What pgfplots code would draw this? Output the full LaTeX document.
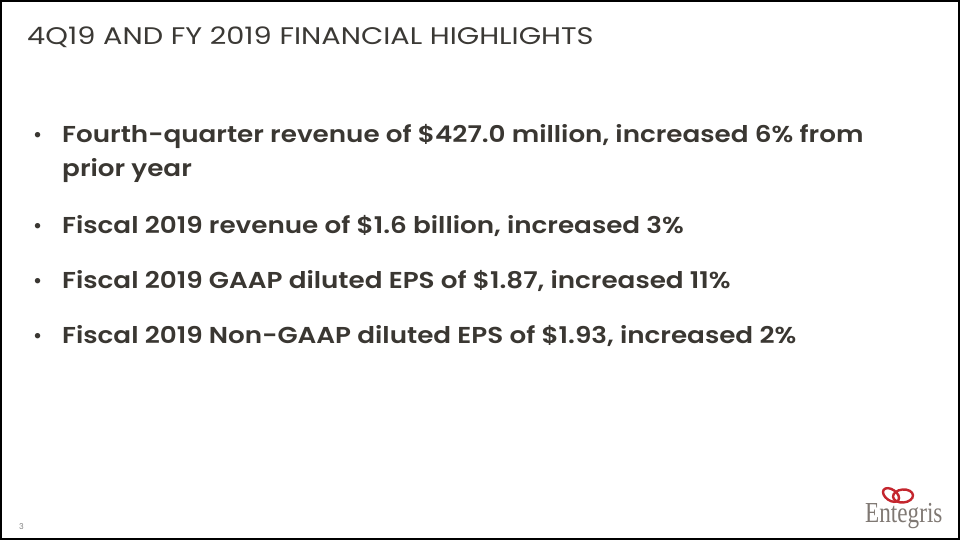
\documentclass[border=0pt]{standalone}
\usepackage{fontspec}
\setmainfont{Poppins}[BoldFont={* SemiBold}]
\usepackage{pgfplots}
\pgfplotsset{compat=1.18}
\newfontfamily\logofont{Liberation Serif}
\definecolor{titlegray}{HTML}{3B3935}
\definecolor{textgray}{HTML}{3A3732}
\definecolor{logored}{HTML}{C4262E}
\definecolor{logogray}{HTML}{7F7873}
\begin{document}
\begin{tikzpicture}
\begin{axis}[
  width=960pt, height=540pt, scale only axis,
  xmin=0, xmax=960, ymin=0, ymax=540,
  axis lines=none, clip=false,
]
\addplot[draw=none] coordinates {(0,0) (960,540)};
\draw[black, line width=1.5pt] (axis cs:1,1) rectangle (axis cs:959,539);
\node[anchor=base west, text=titlegray, font=\fontsize{24}{28}\selectfont, inner sep=0pt, xscale=1.2]
  at (axis cs:27,495) {4Q19 AND FY 2019 FINANCIAL HIGHLIGHTS};
\begin{scope}[every node/.style={anchor=base west, text=textgray, inner sep=0pt, xscale=1.14, font=\fontsize{23}{28}\selectfont\bfseries}]
\node at (axis cs:62,397) {Fourth-quarter revenue of \$427.0 million, increased 6\% from};
\node at (axis cs:62,363) {prior year};
\node at (axis cs:62,306) {Fiscal 2019 revenue of \$1.6 billion, increased 3\%};
\node at (axis cs:62,251) {Fiscal 2019 GAAP diluted EPS of \$1.87, increased 11\%};
\node at (axis cs:62,196) {Fiscal 2019 Non-GAAP diluted EPS of \$1.93, increased 2\%};
\end{scope}
\begin{scope}[every node/.style={anchor=base west, text=textgray, inner sep=0pt, font=\fontsize{22}{24}\selectfont}]
\node at (axis cs:33,397) {•};
\node at (axis cs:33,306) {•};
\node at (axis cs:33,251) {•};
\node at (axis cs:33,196) {•};
\end{scope}
\node[anchor=base west, text=gray, font=\fontsize{8}{10}\selectfont, inner sep=0pt] at (axis cs:19,10) {3};
\node[anchor=base west, text=logogray, font=\logofont\fontsize{29}{32}\selectfont, inner sep=0pt, xscale=0.8] at (axis cs:865,17) {Entegris};
\draw[logored, line width=2.4pt, rotate around={-35:(axis cs:891,45)}] (axis cs:891,45) ellipse [x radius=9pt, y radius=5.5pt];
\draw[logored, line width=2.4pt, rotate around={5:(axis cs:903,44)}] (axis cs:903,44) ellipse [x radius=10pt, y radius=6.5pt];
\end{axis}
\end{tikzpicture}
\end{document}
